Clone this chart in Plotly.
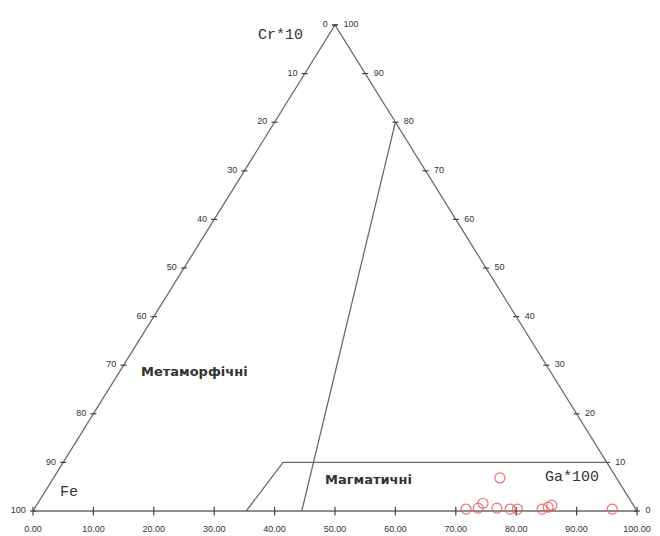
import plotly.graph_objects as go

# ---- data (ternary percentages) ----
tick_values = [0, 10, 20, 30, 40, 50, 60, 70, 80, 90, 100]

# sample points: Ga*100 and Cr*10 shares (Fe = remainder)
sample_ga = [73.9, 71.5, 73.4, 73.7, 76.5, 78.8, 80.0, 84.1, 84.9, 85.3, 95.7]
sample_cr = [6.8, 0.4, 0.6, 1.6, 0.6, 0.4, 0.4, 0.4, 0.8, 1.2, 0.4]

# field boundaries
boundary_ga = [20.0, 44.5]
boundary_cr = [80.0, 0.0]
magmatic_ga = [35.3, 36.4, 90.0]
magmatic_cr = [0.0, 10.0, 10.0]


def tx(ga, cr):
    return ga + cr / 2.0


def ty(ga, cr):
    return cr


LINE = "#6a6a6a"
TXT = "#333333"
FONT = "Liberation Sans, Arial, sans-serif"
BOLD_FONT = "DejaVu Sans, sans-serif"
MONO = "Liberation Mono, DejaVu Sans Mono, monospace"

fig = go.Figure()

# triangle frame
frame_ga = [0, 100, 0, 0]
frame_cr = [0, 0, 100, 0]
fig.add_trace(go.Scatter(
    x=[tx(g, c) for g, c in zip(frame_ga, frame_cr)],
    y=[ty(g, c) for g, c in zip(frame_ga, frame_cr)],
    mode="lines", line=dict(color=LINE, width=1.3), hoverinfo="skip"))

# tick marks
tkx, tky = [], []
for v in tick_values:
    c = 100 - v
    x0 = tx(0, c)
    tkx += [x0 - 0.5, x0 + 0.5, None]
    tky += [c, c, None]
    x1 = tx(100 - v, v)
    tkx += [x1 - 0.5, x1 + 0.5, None]
    tky += [v, v, None]
    tkx += [v, v, None]
    tky += [-0.9, 0.9, None]
fig.add_trace(go.Scatter(x=tkx, y=tky, mode="lines",
                         line=dict(color="#444444", width=1.2), hoverinfo="skip"))

# tick labels
fig.add_trace(go.Scatter(
    x=[tx(0, 100 - v) - 1.2 for v in tick_values],
    y=[100 - v for v in tick_values],
    text=[str(v) for v in tick_values], mode="text",
    textposition="middle left", textfont=dict(size=9, color=TXT, family=FONT),
    hoverinfo="skip"))
fig.add_trace(go.Scatter(
    x=[tx(100 - v, v) + 1.4 for v in tick_values],
    y=[v for v in tick_values],
    text=[str(v) for v in tick_values], mode="text",
    textposition="middle right", textfont=dict(size=9, color=TXT, family=FONT),
    hoverinfo="skip"))
fig.add_trace(go.Scatter(
    x=[tx(v, 0) for v in tick_values],
    y=[-3.9 for v in tick_values],
    text=[f"{v:.2f}" for v in tick_values], mode="text",
    textposition="middle center", textfont=dict(size=9, color=TXT, family=FONT),
    hoverinfo="skip"))

# field boundaries
fig.add_trace(go.Scatter(
    x=[tx(g, c) for g, c in zip(boundary_ga, boundary_cr)],
    y=[ty(g, c) for g, c in zip(boundary_ga, boundary_cr)],
    mode="lines", line=dict(color=LINE, width=1.3), hoverinfo="skip"))
fig.add_trace(go.Scatter(
    x=[tx(g, c) for g, c in zip(magmatic_ga, magmatic_cr)],
    y=[ty(g, c) for g, c in zip(magmatic_ga, magmatic_cr)],
    mode="lines", line=dict(color=LINE, width=1.3), hoverinfo="skip"))

# samples
fig.add_trace(go.Scatter(
    x=[tx(g, c) for g, c in zip(sample_ga, sample_cr)],
    y=[ty(g, c) for g, c in zip(sample_ga, sample_cr)],
    mode="markers", cliponaxis=False,
    marker=dict(symbol="circle-open", size=10,
                line=dict(color="rgba(235,90,90,0.85)", width=1.2),
                color="rgba(235,90,90,0.85)"),
    customdata=[[g, c, 100 - g - c] for g, c in zip(sample_ga, sample_cr)],
    hovertemplate="Ga*100: %{customdata[0]}<br>Cr*10: %{customdata[1]}<br>Fe: %{customdata[2]:.1f}<extra></extra>"))

annots = [
    dict(text="Cr*10", x=40.9, y=97.9, size=15, fam=MONO, bold=False),
    dict(text="Ga*100", x=89.2, y=6.8, size=15, fam=MONO, bold=False),
    dict(text="Fe", x=6.0, y=3.9, size=15, fam=MONO, bold=False),
    dict(text="Метаморфічні", x=26.8, y=28.8, size=13, fam=BOLD_FONT, bold=True),
    dict(text="Магматичні", x=55.5, y=6.4, size=13, fam=BOLD_FONT, bold=True),
]
for a in annots:
    fig.add_annotation(
        x=a["x"], y=a["y"], xref="x", yref="y", showarrow=False,
        text=("<b>%s</b>" % a["text"]) if a["bold"] else a["text"],
        font=dict(size=a["size"], color=TXT, family=a["fam"]))

# the page body adds an 8 px offset, so the ranges are set for that
fig.update_layout(
    width=660, height=536, autosize=False,
    margin=dict(l=0, r=0, t=0, b=0),
    paper_bgcolor="white", plot_bgcolor="white",
    showlegend=False,
    xaxis=dict(range=[-4.139, 105.13], visible=False, fixedrange=True),
    yaxis=dict(range=[-6.79, 103.50], visible=False, fixedrange=True),
)

fig.write_html("out.html")
